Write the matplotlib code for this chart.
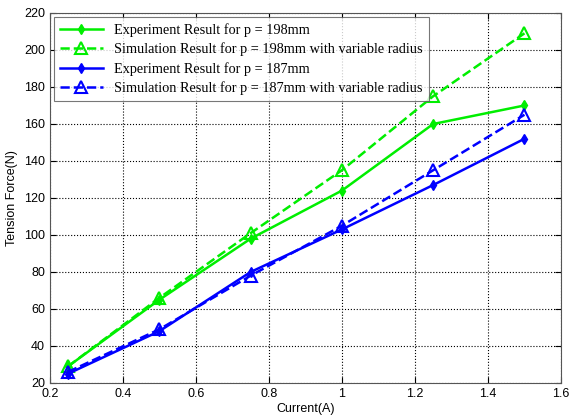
import matplotlib.pyplot as plt

current = [0.25, 0.5, 0.75, 1.0, 1.25, 1.5]
exp_198 = [29, 65, 98, 124, 160, 170]
sim_198 = [29, 66, 101, 135, 175, 209]
exp_187 = [25, 48, 80, 103, 127, 152]
sim_187 = [26, 49, 78, 105, 135, 165]

fig = plt.figure(figsize=(5.73, 4.19), dpi=100)
ax = fig.add_axes([0.087, 0.086, 0.892, 0.883])

green = '#00ee00'
blue = '#0000ff'
ax.plot(current, exp_198, '-', color=green, lw=1.8, marker='d', ms=5,
        label='Experiment Result for p = 198mm')
ax.plot(current, sim_198, '--', color=green, lw=1.8, marker='^', ms=8,
        mfc='none', mew=1.5, label='Simulation Result for p = 198mm with variable radius')
ax.plot(current, exp_187, '-', color=blue, lw=1.8, marker='d', ms=5,
        label='Experiment Result for p = 187mm')
ax.plot(current, sim_187, '--', color=blue, lw=1.8, marker='^', ms=8,
        mfc='none', mew=1.5, label='Simulation Result for p = 187mm with variable radius')

ax.set_xlim(0.2, 1.6)
ax.set_ylim(20, 220)
ax.set_xticks([0.2, 0.4, 0.6, 0.8, 1, 1.2, 1.4, 1.6])
ax.set_xticklabels(['0.2', '0.4', '0.6', '0.8', '1', '1.2', '1.4', '1.6'])
ax.set_yticks(range(20, 221, 20))
ax.grid(True, color='black', linestyle=':', linewidth=0.8)
ax.tick_params(direction='in', labelsize=9, top=True, right=True, length=4)
for lab in ax.get_xticklabels() + ax.get_yticklabels():
    lab.set_fontfamily('Liberation Sans')
for s in ax.spines.values():
    s.set_color('#555555')

ax.set_xlabel('Current(A)', fontsize=9, fontfamily='Liberation Sans', labelpad=2)
ax.set_ylabel('Tension Force(N)', fontsize=9, fontfamily='Liberation Sans', labelpad=4)

leg = ax.legend(loc='upper left', fancybox=False, edgecolor='#555555',
                prop={'family': 'Liberation Serif', 'size': 10.3},
                handlelength=3.0, borderaxespad=0.3, labelspacing=0.4)
leg.get_frame().set_linewidth(0.8)

fig.savefig('out.png', dpi=100)
